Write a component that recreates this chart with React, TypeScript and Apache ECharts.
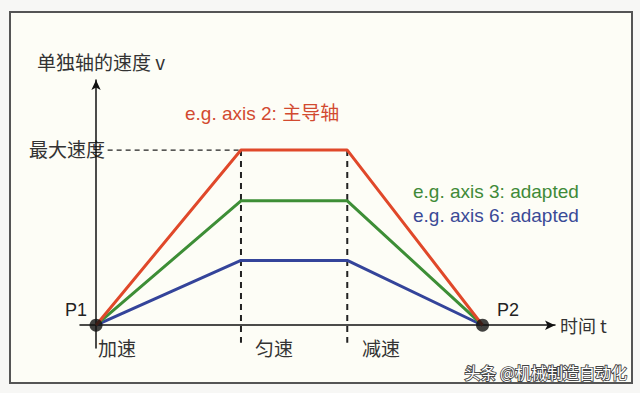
import React, { useEffect, useRef } from "react";
import * as echarts from "echarts";

// time points: P1, end of acceleration, end of constant speed, P2
const timePoints = [0, 1.5, 2.6, 4.0];
const axis2Speed = [0, 1.0, 1.0, 0];
const axis3Speed = [0, 0.71, 0.71, 0];
const axis6Speed = [0, 0.37, 0.37, 0];
const maxSpeed = 1.0;
const phaseLabels = ["加速", "匀速", "减速"];

const CJK = '"Noto Sans CJK SC", "Liberation Sans", sans-serif';
const LAT = '"Liberation Sans", "Noto Sans CJK SC", sans-serif';

export default function App() {
  const ref = useRef<HTMLDivElement>(null);
  useEffect(() => {
    if (!ref.current) return;
    const chart = echarts.init(ref.current, null, { renderer: "svg" });
    const pairs = (ys: number[]) => timePoints.map((t, i) => [t, ys[i]]);
    const lineStyle = (c: string) => ({ color: c, width: 3 });
    chart.setOption({
      animation: false,
      backgroundColor: "#f7f7f5",
      grid: { left: 80, right: 85, top: 80, bottom: 45 },
      xAxis: {
        type: "value",
        min: -0.166,
        max: 4.75,
        splitLine: { show: false },
        axisTick: { show: false },
        axisLabel: { show: false },
        axisLine: {
          onZero: true,
          lineStyle: { color: "#111", width: 1.5 },
          symbol: ["none", "arrow"],
          symbolSize: [7, 10],
        },
      },
      yAxis: {
        type: "value",
        min: -0.13,
        max: 1.4,
        splitLine: { show: false },
        axisTick: { show: false },
        axisLabel: { show: false },
        axisLine: {
          onZero: true,
          lineStyle: { color: "#111", width: 1.5 },
          symbol: ["none", "arrow"],
          symbolSize: [7, 10],
        },
      },
      graphic: [
        {
          type: "rect",
          z: -10,
          shape: { x: 10, y: 12, width: 622, height: 371 },
          style: { fill: "#fdfdf6", stroke: "#555", lineWidth: 2 },
        },
        {
          type: "text",
          left: 37,
          top: 52,
          style: { text: "单独轴的速度 v", font: `19px ${CJK}`, fill: "#333" },
        },
        {
          type: "text",
          left: 29,
          top: 139,
          style: { text: "最大速度", font: `19px ${CJK}`, fill: "#333" },
        },
        {
          type: "text",
          left: 185,
          top: 104,
          style: { text: "e.g. axis 2: 主导轴", font: `19px ${LAT}`, fill: "#d24a30" },
        },
        {
          type: "text",
          left: 413,
          top: 182,
          style: { text: "e.g. axis 3: adapted", font: `19px ${LAT}`, fill: "#3f8a38" },
        },
        {
          type: "text",
          left: 413,
          top: 206,
          style: { text: "e.g. axis 6: adapted", font: `19px ${LAT}`, fill: "#3a4a96" },
        },
        {
          type: "text",
          left: 65,
          top: 301,
          style: { text: "P1", font: `18px ${LAT}`, fill: "#222" },
        },
        {
          type: "text",
          left: 497,
          top: 301,
          style: { text: "P2", font: `18px ${LAT}`, fill: "#222" },
        },
        {
          type: "text",
          left: 560,
          top: 316,
          style: { text: "时间 t", font: `18px ${CJK}`, fill: "#333" },
        },
        ...phaseLabels.map((s, i) => ({
          type: "text",
          left: [98, 255, 362][i],
          top: 338,
          style: { text: s, font: `19px ${CJK}`, fill: "#333" },
        })),
        {
          type: "text",
          right: 12,
          top: 363,
          z: 100,
          style: {
            text: "头条 @机械制造自动化",
            font: `16px ${CJK}`,
            fill: "#ffffff",
            stroke: "#444",
            lineWidth: 1.8,
          },
        },
      ],
      series: [
        {
          type: "line",
          data: [[0.12, maxSpeed], [timePoints[1], maxSpeed]],
          symbol: "none",
          silent: true,
          lineStyle: { color: "#222", width: 1.3, type: [5, 4] },
        },
        {
          type: "line",
          data: [[timePoints[1], maxSpeed], [timePoints[1], -0.1]],
          symbol: "none",
          silent: true,
          lineStyle: { color: "#222", width: 2, type: [6, 5] },
        },
        {
          type: "line",
          data: [[timePoints[2], maxSpeed], [timePoints[2], -0.1]],
          symbol: "none",
          silent: true,
          lineStyle: { color: "#222", width: 2, type: [6, 5] },
        },
        {
          type: "line",
          data: pairs(axis6Speed),
          symbol: "none",
          lineStyle: lineStyle("#34449a"),
        },
        {
          type: "line",
          data: pairs(axis3Speed),
          symbol: "none",
          lineStyle: lineStyle("#3d8e36"),
        },
        {
          type: "line",
          data: pairs(axis2Speed),
          symbol: "none",
          lineStyle: lineStyle("#e0482a"),
        },
        {
          type: "scatter",
          data: [[timePoints[0], 0], [timePoints[3], 0]],
          symbolSize: 13,
          itemStyle: { color: "#111" },
          z: 10,
        },
      ],
    });
    return () => chart.dispose();
  }, []);
  return (
    <div
      ref={ref}
      style={{ position: "fixed", left: 0, top: 0, width: 640, height: 393 }}
    />
  );
}
